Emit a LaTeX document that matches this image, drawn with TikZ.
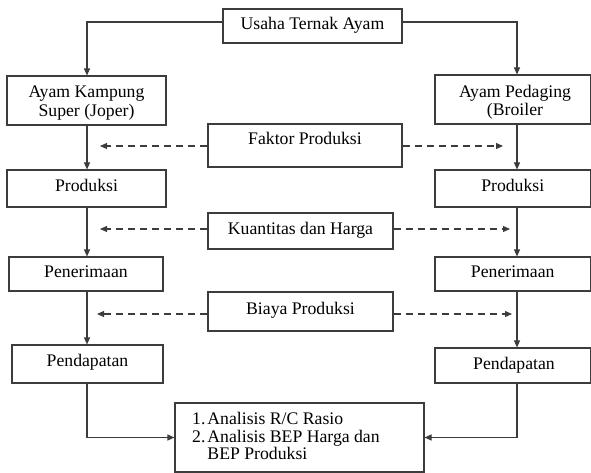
\documentclass[tikz,border=0pt]{standalone}
\usepackage{fontspec}
\setmainfont{Liberation Serif}
\usetikzlibrary{arrows.meta}
\definecolor{linegray}{HTML}{3C3C3C}
\begin{document}
\begin{tikzpicture}[x=1pt,y=-1pt,
  every node/.style={font=\fontsize{17.7}{18.5}\selectfont, text=black},
  box/.style={draw=linegray, line width=1.1pt, inner sep=0pt, rectangle},
  one/.style={text height=0.9em, text depth=0.2em},
  two/.style={align=center, inner sep=0pt},
  conn/.style={draw=linegray, line width=1.1pt, -{Triangle[length=7pt,width=6pt]}},
  dconn/.style={conn, dash pattern=on 7pt off 5pt},
]
\useasboundingbox (0,0) rectangle (591,473);

% boxes
\node[box, one, minimum width=179, minimum height=34] (top) at (312.5,26) {Usaha Ternak Ayam};
\node[box, minimum width=159, minimum height=49] (ajk) at (86.5,100.5) {};
\node[two] (ajkt) at (86.5,103) {Ayam Kampung\\Super (Joper)};
\node[box, minimum width=155.5, minimum height=49] (apd) at (512.75,99.5) {};
\node[two] (apdt) at (515,102) {Ayam Pedaging\\(Broiler};
\node[box, minimum width=194, minimum height=43] (fak) at (305,145.5) {};
\node[one] (fakt) at (305,141) {Faktor Produksi};
\node[box, one, minimum width=159, minimum height=37] (pl) at (86.5,188.5) {Produksi};
\node[box, one, minimum width=155.5, minimum height=37] (pr) at (512.75,188.5) {Produksi};
\node[box, one, minimum width=185, minimum height=36] (kua) at (300.5,231) {Kuantitas dan Harga};
\node[box, one, minimum width=154, minimum height=34] (nl) at (86,274) {Penerimaan};
\node[box, one, minimum width=155.5, minimum height=34] (nr) at (512.75,274) {Penerimaan};
\node[box, minimum width=185, minimum height=39] (bia) at (300.5,311.5) {};
\node[one] (biat) at (300.5,310.5) {Biaya Produksi};
\node[box, minimum width=151, minimum height=38] (dl) at (87.5,364) {};
\node[one] (dlt) at (87.5,363) {Pendapatan};
\node[box, minimum width=155.5, minimum height=35] (dr) at (512.75,365.5) {};
\node[one] (drt) at (514,366) {Pendapatan};
\node[box, minimum width=249, minimum height=69] (ana) at (299.5,437.5) {};
\node[anchor=west, inner sep=0pt] (anat) at (192,438.5) {\renewcommand{\arraystretch}{0.96}\begin{tabular}{@{}l@{\hspace{2pt}}l@{}}1. & Analisis R/C Rasio\\ 2. & Analisis BEP Harga dan\\ & BEP Produksi\end{tabular}};

% column coordinates
\coordinate (lc) at (87,0);
\coordinate (rc) at (517,0);

% solid connectors
\draw[conn] ([yshift=4pt]top.west) -| (ajk.north -| lc);
\draw[conn] ([yshift=4pt]top.east) -| (apd.north -| rc);
\draw[conn] (ajk.south -| lc) -- (pl.north -| lc);
\draw[conn] (pl.south -| lc) -- (nl.north -| lc);
\draw[conn] (nl.south -| lc) -- (dl.north -| lc);
\draw[conn] (apd.south -| rc) -- (pr.north -| rc);
\draw[conn] (pr.south -| rc) -- (nr.north -| rc);
\draw[conn] (nr.south -| rc) -- (dr.north -| rc);
\draw[conn] (dl.south -| lc) |- (ana.west);
\draw[conn] (dr.south -| rc) |- (ana.east);

% dashed connectors
\coordinate (fl) at (100,146);
\coordinate (fr) at (503,146);
\coordinate (kl) at (100,229);
\coordinate (kr) at (510,229);
\coordinate (bl) at (97,314);
\coordinate (br) at (512,314);
\draw[dconn] (fak.west |- fl) -- (fl);
\draw[dconn] (fak.east |- fr) -- (fr);
\draw[dconn] (kua.west |- kl) -- (kl);
\draw[dconn] (kua.east |- kr) -- (kr);
\draw[dconn] (bia.west |- bl) -- (bl);
\draw[dconn] (bia.east |- br) -- (br);
\end{tikzpicture}
\end{document}
